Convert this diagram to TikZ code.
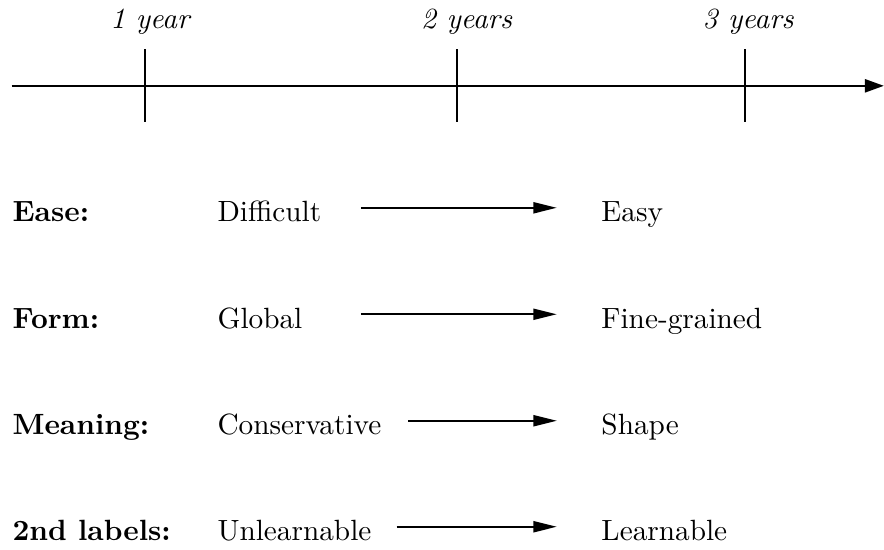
\documentclass[tikz,border=0pt]{standalone}
\usepackage{tikz}
\usetikzlibrary{positioning,arrows.meta}

\begin{document}
\begin{tikzpicture}[font=\normalsize, >={Triangle[length=8pt,width=3.8pt]},
  lbl/.style={anchor=base west, inner sep=0pt},
  head/.style={lbl, font=\bfseries},
  yr/.style={anchor=base, inner sep=0pt, font=\itshape},
  tickline/.style={line width=0.7pt},
  change/.style={->, line width=0.6pt, shorten >=0.53cm}]
  \useasboundingbox (0,0) rectangle (10.61,6.6);
  % time axis
  \coordinate (t0) at (0.14,5.57);
  \coordinate (t1) at (10.61,5.57);
  \draw[line width=0.9pt, -{Triangle[length=6.5pt,width=4.4pt]}] (t0) -- (t1);
  \foreach \x/\lx/\t/\n in {1.74/1.80/1 year/y1, 5.48/5.60/2 years/y2, 8.94/8.98/3 years/y3} {
    \draw[tickline] (\x,6.01) -- (\x,5.14);
    \node[yr] (\n) at (\lx,6.26) {\t};
  }
  % rows: property, from, to
  \foreach \y/\s/\p/\a/\b/\n in {3.936/4.33/Ease:/Difficult/Easy/1,
      2.658/4.33/Form:/Global/Fine-grained/2,
      1.38/4.90/Meaning:/Conservative/Shape/3,
      0.108/4.76/2nd labels:/Unlearnable/Learnable/4} {
    \node[head] (prop\n) at (0.144,\y) {\p};
    \node[lbl] (from\n) at (2.604,\y) {\a};
    \node[lbl] (to\n) at (7.212,\y) {\b};
    \coordinate (s\n) at (\s,\y+0.17);
    \draw[change] (s\n) -- (s\n -| to\n.west);
  }
\end{tikzpicture}
\end{document}
